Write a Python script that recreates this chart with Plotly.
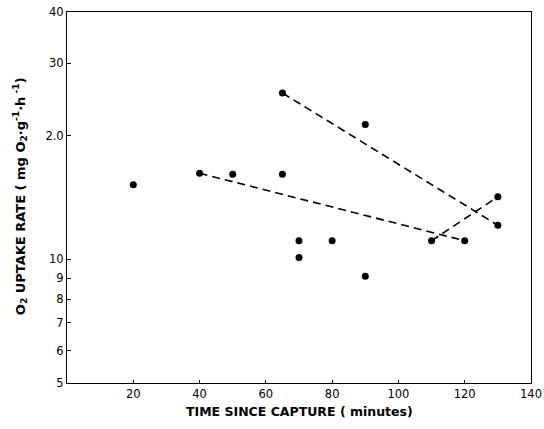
import plotly.graph_objects as go

# Data points (time since capture in minutes, O2 uptake rate)
time_min = [20, 40, 50, 65, 65, 70, 70, 80, 90, 90, 110, 120, 130, 130]
uptake = [15.2, 16.2, 16.1, 16.1, 25.4, 11.1, 10.1, 11.1, 21.3, 9.1, 11.1, 11.1, 14.2, 12.1]

# Dashed regression-like lines
line1_x = [65, 130]
line1_y = [25.4, 12.1]
line2_x = [40, 120]
line2_y = [16.2, 11.1]
line3_x = [110, 130]
line3_y = [11.1, 14.2]

y_tickvals = [5, 6, 7, 8, 9, 10, 20, 30, 40]
y_ticktext = ["5", "6", "7", "8", "9", "10", "2.0", "30", "40"]
x_tickvals = [20, 40, 60, 80, 100, 120, 140]

x_title = "<b>TIME SINCE CAPTURE ( minutes)</b>"
y_title = "<b>O<sub>2</sub> UPTAKE RATE ( mg O<sub>2</sub>·g<sup>-1</sup>·h<sup> -1</sup>)</b>"

fig = go.Figure()
for lx, ly in [(line1_x, line1_y), (line2_x, line2_y), (line3_x, line3_y)]:
    fig.add_trace(go.Scatter(x=lx, y=ly, mode="lines",
                             line=dict(color="black", width=1.6, dash="8px,5px"),
                             showlegend=False, hoverinfo="skip"))
fig.add_trace(go.Scatter(x=time_min, y=uptake, mode="markers",
                         marker=dict(color="black", size=7),
                         showlegend=False))

fig.update_layout(
    width=544, height=429,
    margin=dict(l=67, r=13, t=12, b=46, autoexpand=False),
    paper_bgcolor="white", plot_bgcolor="white",
    font=dict(family="DejaVu Sans, sans-serif", color="black", size=11),
    xaxis=dict(range=[0, 140], tickvals=x_tickvals, showgrid=False, zeroline=False,
               showline=True, linecolor="black", linewidth=1, mirror=True,
               ticks="inside", ticklen=3, tickcolor="black", automargin=False,
               ticklabeloverflow="allow", tickfont=dict(size=11.5)),
    yaxis=dict(type="log", range=[0.69897, 1.60206], tickvals=y_tickvals, ticktext=y_ticktext,
               showgrid=False, zeroline=False,
               showline=True, linecolor="black", linewidth=1, mirror=True,
               ticks="inside", ticklen=4, tickcolor="black", automargin=False,
               ticklabeloverflow="allow", tickfont=dict(size=11.5)),
    annotations=[
        dict(text=x_title, xref="paper", yref="paper", x=0.502, y=-0.076,
             xanchor="center", yanchor="middle", showarrow=False, font=dict(size=12.5)),
        dict(text=y_title, xref="paper", yref="paper", x=-0.101, y=0.504, textangle=-90,
             xanchor="center", yanchor="middle", showarrow=False, font=dict(size=13)),
    ],
)

# remove the default 8px page margin so the figure fills the window exactly
fig.write_html("out.html", config={"displayModeBar": False},
               post_script="document.body.style.margin='0';")
